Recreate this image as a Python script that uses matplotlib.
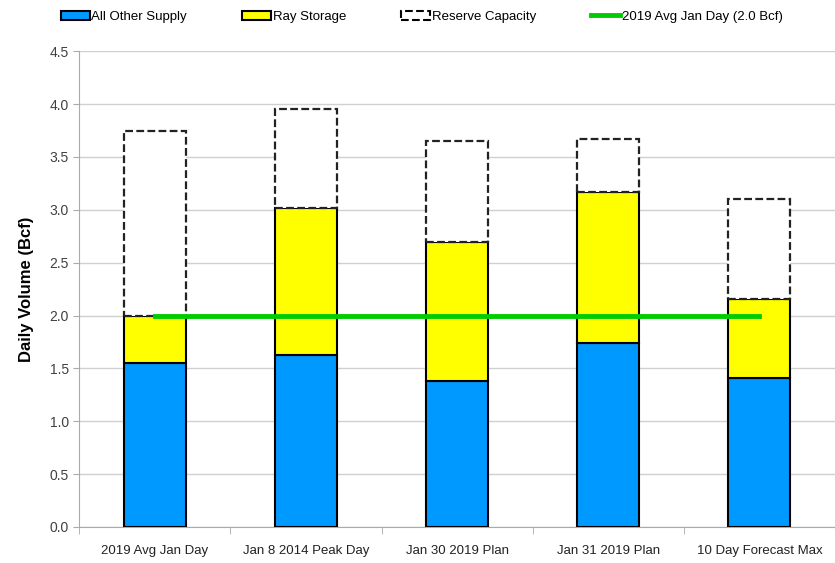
import matplotlib.pyplot as plt
from matplotlib.patches import Patch
from matplotlib.lines import Line2D
import numpy as np

categories = ['2019 Avg Jan Day', 'Jan 8 2014 Peak Day', 'Jan 30 2019 Plan',
              'Jan 31 2019 Plan', '10 Day Forecast Max']
other_supply = [1.55, 1.63, 1.38, 1.74, 1.41]
ray_storage = [0.45, 1.39, 1.32, 1.43, 0.75]
reserve_capacity = [1.75, 0.93, 0.95, 0.50, 0.94]
avg_jan_day = 2.0
yticks = np.arange(0, 4.51, 0.5)

plt.rcParams['font.family'] = ['Liberation Sans', 'DejaVu Sans']

fig = plt.figure(figsize=(8.35, 5.63), dpi=100)
ax = fig.add_axes([0.095, 0.064, 0.905, 0.845])

x = np.arange(len(categories))
w = 0.41
ax.bar(x, other_supply, w, color='#0099FF', edgecolor='black', linewidth=1.5, zorder=3)
ax.bar(x, ray_storage, w, bottom=other_supply, color='#FFFF00', edgecolor='black',
       linewidth=1.5, zorder=3)
base = np.array(other_supply) + np.array(ray_storage)
ax.bar(x, reserve_capacity, w, bottom=base, color='white', edgecolor='#222222',
       linewidth=1.6, linestyle=(0, (3.5, 1.5)), zorder=3)
ax.plot([x[0], x[-1]], [avg_jan_day, avg_jan_day], color='#00CC00', linewidth=3.5, zorder=4)

ax.set_ylim(0, 4.5)
ax.set_xlim(-0.5, 4.47)
ax.set_yticks(yticks)
ax.set_yticklabels([f'{v:.1f}' for v in yticks], fontsize=10, color='#404040')
ax.set_xticks(x)
ax.set_xticklabels(categories, fontsize=9.5, color='#222222')
ax.set_xticks(np.arange(-0.5, len(categories), 1), minor=True)
ax.tick_params(axis='x', which='major', length=0, pad=13)
ax.tick_params(axis='x', which='minor', length=5, color='#aaaaaa')
ax.tick_params(axis='y', length=4, color='#aaaaaa')
ax.grid(axis='y', color='#d0d0d0', linewidth=1, zorder=0)
for s in ['top', 'right']:
    ax.spines[s].set_visible(False)
for s in ['left', 'bottom']:
    ax.spines[s].set_color('#aaaaaa')
ax.set_ylabel('Daily Volume (Bcf)', fontsize=12, fontweight='bold', labelpad=11)

handles = [
    Patch(facecolor='#0099FF', edgecolor='black', linewidth=1.5, label='All Other Supply'),
    Patch(facecolor='#FFFF00', edgecolor='black', linewidth=1.5, label='Ray Storage'),
    Patch(facecolor='white', edgecolor='black', linewidth=1.5, linestyle='--',
          label='Reserve Capacity'),
    Line2D([0], [0], color='#00CC00', linewidth=3.5, label='2019 Avg Jan Day (2.0 Bcf)'),
]
fig.legend(handles=handles, loc='center', bbox_to_anchor=(0.505, 0.97), ncol=4,
           frameon=False, fontsize=9.5, handlelength=2.2, handletextpad=0.1,
           columnspacing=4.2)

fig.savefig('out.png', dpi=100)
